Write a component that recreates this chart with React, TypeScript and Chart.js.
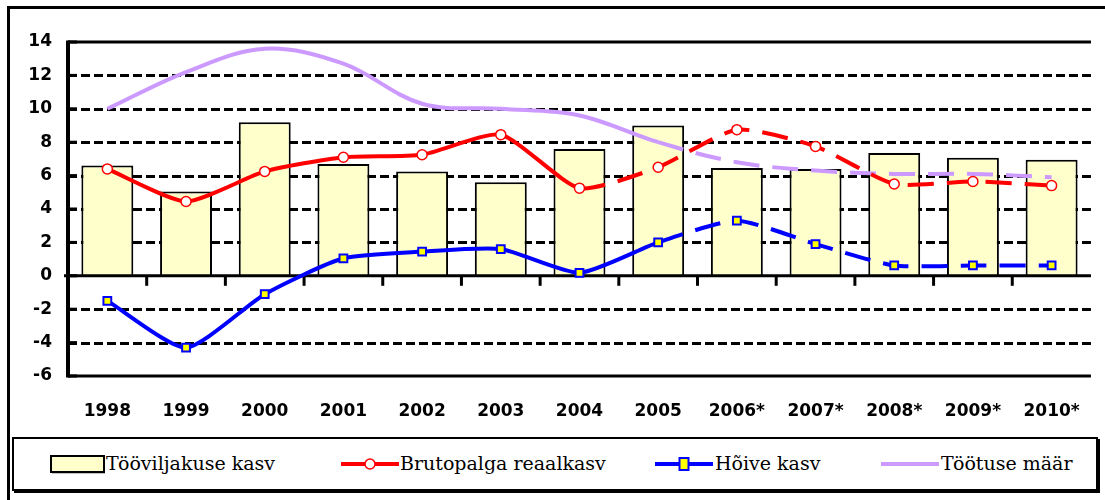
import React, { useEffect, useRef } from 'react';
import { Chart, registerables } from 'chart.js';

Chart.register(...registerables);

const years = ['1998', '1999', '2000', '2001', '2002', '2003', '2004', '2005', '2006*', '2007*', '2008*', '2009*', '2010*'];
const productivityGrowth = [6.6, 5.05, 9.2, 6.7, 6.25, 5.6, 7.6, 9.0, 6.45, 6.4, 7.35, 7.07, 6.95];
const realWageGrowth = [6.4, 4.45, 6.25, 7.1, 7.25, 8.45, 5.25, 6.5, 8.75, 7.75, 5.5, 5.65, 5.4];
const employmentGrowth = [-1.5, -4.3, -1.1, 1.05, 1.45, 1.6, 0.18, 2.0, 3.3, 1.9, 0.62, 0.62, 0.62];
const unemploymentRate = [10.0, 12.2, 13.6, 12.7, 10.3, 10.0, 9.6, 8.0, 6.8, 6.3, 6.1, 6.1, 5.9];
const yMin = -6;
const yMax = 14;
const yStep = 2;

const legendLabels = ['Tööviljakuse kasv', 'Brutopalga reaalkasv', 'Hõive kasv', 'Töötuse määr'];

const BAR_FILL = '#FFFFCC';
const RED = '#FF0000';
const BLUE = '#0000FF';
const PURPLE = '#CC99FF';

const axesPlugin = {
  id: 'customAxes',
  beforeDatasetsDraw(chart: any) {
    const { ctx, chartArea, scales } = chart;
    const y = scales.y;
    ctx.save();
    ctx.strokeStyle = '#000';
    ctx.lineWidth = 3;
    ctx.setLineDash([9, 4]);
    y.ticks.forEach((t: any) => {
      const v = t.value;
      if (v === yMax || v === yMin || v === 0) return;
      const py = Math.round(y.getPixelForValue(v)) + 0.5;
      ctx.beginPath();
      ctx.moveTo(chartArea.left, py);
      ctx.lineTo(chartArea.right, py);
      ctx.stroke();
    });
    ctx.restore();
  },
  afterDatasetDraw(chart: any, args: any) {
    if (args.index !== 0) return;
    const { ctx, chartArea, scales } = chart;
    const x = scales.x;
    const y = scales.y;
    ctx.save();
    ctx.strokeStyle = '#000';
    ctx.setLineDash([]);
    ctx.lineWidth = 3;
    const topY = y.getPixelForValue(yMax);
    const botY = y.getPixelForValue(yMin);
    ctx.beginPath();
    ctx.moveTo(chartArea.left, topY);
    ctx.lineTo(chartArea.right, topY);
    ctx.moveTo(chartArea.left, botY);
    ctx.lineTo(chartArea.right, botY);
    ctx.stroke();
    const zeroY = y.getPixelForValue(0);
    ctx.beginPath();
    ctx.moveTo(chartArea.left - 4, zeroY);
    ctx.lineTo(chartArea.right, zeroY);
    ctx.stroke();
    ctx.lineWidth = 4;
    ctx.beginPath();
    ctx.moveTo(chartArea.left, topY - 1.5);
    ctx.lineTo(chartArea.left, botY + 1.5);
    ctx.stroke();
    ctx.lineWidth = 3;
    y.ticks.forEach((t: any) => {
      const py = y.getPixelForValue(t.value);
      ctx.beginPath();
      ctx.moveTo(chartArea.left, py);
      ctx.lineTo(chartArea.left + 9, py);
      ctx.stroke();
    });
    for (let i = 1; i < years.length; i++) {
      const px = (x.getPixelForValue(i - 1) + x.getPixelForValue(i)) / 2;
      ctx.beginPath();
      ctx.moveTo(px, zeroY);
      ctx.lineTo(px, zeroY + 10);
      ctx.stroke();
    }
    ctx.restore();
  },
};

function LegendSwatch({ kind }: { kind: number }) {
  if (kind === 0) {
    return (
      <svg width="58" height="22" style={{ display: 'block' }}>
        <rect x="2" y="3" width="53" height="16" fill={BAR_FILL} stroke="#000" strokeWidth="2" />
        <line x1="3" y1="19.5" x2="56" y2="19.5" stroke="#000" strokeWidth="1.5" />
      </svg>
    );
  }
  const color = kind === 1 ? RED : kind === 2 ? BLUE : PURPLE;
  return (
    <svg width="58" height="22" style={{ display: 'block' }}>
      <line x1="0" y1="11" x2="58" y2="11" stroke={color} strokeWidth="4" />
      {kind === 1 && <circle cx="29" cy="11" r="5" fill="#fff" stroke={RED} strokeWidth="1.5" />}
      {kind === 2 && <rect x="24.5" y="5" width="9" height="12" fill="#FFFF00" stroke={BLUE} strokeWidth="2" />}
    </svg>
  );
}

export default function App() {
  const canvasRef = useRef<HTMLCanvasElement>(null);

  useEffect(() => {
    const dashFrom = (start: number) => (c: any) => (c.p0DataIndex >= start ? [26, 13] : undefined);
    const chart = new Chart(canvasRef.current as HTMLCanvasElement, {
      type: 'bar',
      data: {
        labels: years,
        datasets: [
          {
            type: 'bar',
            label: legendLabels[0],
            data: productivityGrowth,
            backgroundColor: BAR_FILL,
            borderColor: '#000',
            borderWidth: 2,
            barPercentage: 0.66,
            categoryPercentage: 1,
            order: 10,
          } as any,
          {
            type: 'line',
            label: legendLabels[3],
            data: unemploymentRate,
            borderColor: PURPLE,
            borderWidth: 4,
            pointRadius: 0,
            tension: 0.35,
            segment: { borderDash: dashFrom(7) },
            order: 3,
          } as any,
          {
            type: 'line',
            label: legendLabels[2],
            data: employmentGrowth,
            borderColor: BLUE,
            borderWidth: 4,
            pointStyle: 'rect',
            pointRadius: 5.5,
            pointBackgroundColor: '#FFFF00',
            pointBorderColor: BLUE,
            pointBorderWidth: 2,
            tension: 0.2,
            segment: { borderDash: dashFrom(7) },
            order: 2,
          } as any,
          {
            type: 'line',
            label: legendLabels[1],
            data: realWageGrowth,
            borderColor: RED,
            borderWidth: 4,
            pointStyle: 'circle',
            pointRadius: 5,
            pointBackgroundColor: '#FFFFFF',
            pointBorderColor: RED,
            pointBorderWidth: 1.5,
            tension: 0.2,
            segment: { borderDash: dashFrom(6) },
            order: 1,
          } as any,
        ],
      },
      options: {
        responsive: false,
        animation: false,
        devicePixelRatio: 1,
        layout: { padding: { top: 42, right: 3, left: 0, bottom: 0 } },
        plugins: {
          legend: { display: false },
          tooltip: { enabled: false },
          title: { display: false },
        },
        scales: {
          x: {
            grid: { display: false, drawTicks: false },
            border: { display: false },
            ticks: {
              color: '#000',
              padding: 25,
              maxRotation: 0,
              autoSkip: false,
              font: { family: 'DejaVu Sans', weight: 'bold', size: 17 },
            },
            afterFit: (s: any) => {
              s.height = 59;
            },
          },
          y: {
            min: yMin,
            max: yMax,
            grid: { display: false, drawTicks: false },
            border: { display: false },
            ticks: {
              stepSize: yStep,
              color: '#000',
              padding: 16,
              font: { family: 'DejaVu Sans', weight: 'bold', size: 17 },
            },
            afterFit: (s: any) => {
              s.width = 68;
            },
          },
        },
      },
      plugins: [axesPlugin],
    });
    return () => chart.destroy();
  }, []);

  const legendPositions = [
    { sw: 49, tx: 106 },
    { sw: 341, tx: 400 },
    { sw: 655, tx: 715 },
    { sw: 881, tx: 941 },
  ];

  return (
    <div
      style={{
        position: 'fixed',
        left: 0,
        top: 0,
        width: 1105,
        height: 500,
        background: '#fff',
        overflow: 'hidden',
      }}
    >
      <div
        style={{
          position: 'absolute',
          left: 7,
          top: 6,
          width: 1110,
          height: 510,
          borderLeft: '3px solid #000',
          borderTop: '3px solid #000',
          boxSizing: 'border-box',
        }}
      />
      <canvas
        ref={canvasRef}
        width={1105}
        height={435}
        style={{ position: 'absolute', left: 0, top: 0, width: 1105, height: 435 }}
      />
      <div
        style={{
          position: 'absolute',
          left: 12,
          top: 437,
          width: 1086,
          height: 54,
          border: '2px solid #000',
          boxShadow: '2px 2px 0 #000',
          boxSizing: 'border-box',
          background: '#fff',
        }}
      />
      {legendLabels.map((label, i) => (
        <React.Fragment key={label}>
          <div style={{ position: 'absolute', left: legendPositions[i].sw, top: 453 }}>
            <LegendSwatch kind={i} />
          </div>
          <div
            style={{
              position: 'absolute',
              left: legendPositions[i].tx,
              top: 450,
              fontFamily: '"DejaVu Serif", serif',
              fontSize: 19,
              lineHeight: '26px',
              color: '#000',
              whiteSpace: 'nowrap',
            }}
          >
            {label}
          </div>
        </React.Fragment>
      ))}
    </div>
  );
}
